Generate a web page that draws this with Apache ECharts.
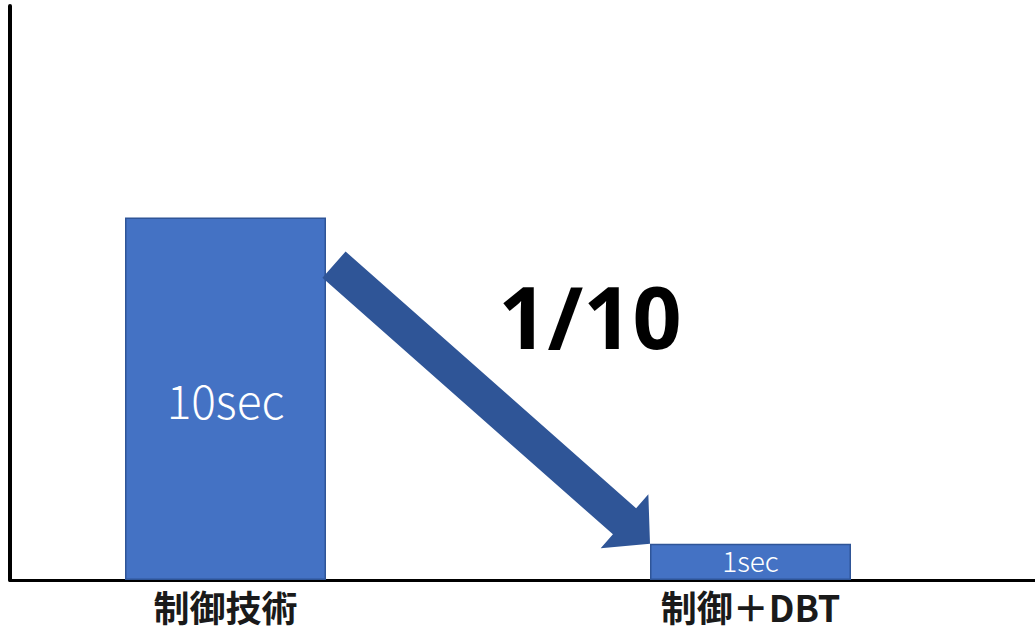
<!DOCTYPE html>
<html>
<head>
<meta charset="utf-8">
<script src="https://cdn.jsdelivr.net/npm/echarts@6/dist/echarts.min.js"></script>
<style>
  html, body { margin: 0; padding: 0; background: #ffffff; }
  #chart { width: 1035px; height: 633px; }
</style>
</head>
<body>
<div id="chart"></div>
<script>
// Processing time per approach (seconds)
const categories = ['制御技術', '制御＋DBT'];
const seconds = [10, 1];
const ratioText = '1/10';

const BAR_COLOR = '#4472C4';
const BAR_EDGE = '#2F5597';
const ARROW_COLOR = '#2F5597';
const BAR_WIDTH = 201;

const chart = echarts.init(document.getElementById('chart'), null, { renderer: 'svg' });

chart.setOption({
  backgroundColor: '#ffffff',
  animation: false,
  grid: [
    // frame: the two black axis lines
    { left: 10, right: 0, top: 6, bottom: 53, outerBoundsMode: 'none' },
    // bars
    { left: -37, width: 1050, top: 0, bottom: 53, outerBoundsMode: 'none' }
  ],
  xAxis: [
    {
      gridIndex: 0, type: 'category', data: [''],
      axisLine: { show: true, lineStyle: { color: '#000', width: 3 } },
      axisTick: { show: false }, axisLabel: { show: false }
    },
    {
      gridIndex: 1, type: 'category', data: categories,
      axisLine: { show: false }, axisTick: { show: false },
      axisLabel: {
        color: '#1a1a1a', fontSize: 36, lineHeight: 36, fontWeight: 'bold',
        fontFamily: '"Noto Sans CJK JP", sans-serif', margin: 8
      }
    }
  ],
  yAxis: [
    {
      gridIndex: 0, type: 'value', min: 0, max: 1,
      axisLine: { show: true, lineStyle: { color: '#000', width: 4 } },
      axisTick: { show: false }, axisLabel: { show: false }, splitLine: { show: false }
    },
    {
      gridIndex: 1, type: 'value', min: 0, max: 16,
      axisLine: { show: false }, axisTick: { show: false },
      axisLabel: { show: false }, splitLine: { show: false }
    }
  ],
  series: [{
    type: 'bar',
    xAxisIndex: 1, yAxisIndex: 1,
    data: seconds.map((v, i) => ({
      value: v,
      // the short bar gets a smaller caption so it stays within the bar
      label: i === 1 ? { fontSize: 28, lineHeight: 28, offset: [0, -2] } : undefined
    })),
    barWidth: BAR_WIDTH,
    itemStyle: { color: BAR_COLOR, borderColor: BAR_EDGE, borderWidth: 1.5 },
    label: {
      show: true, position: 'inside',
      formatter: p => p.value + 'sec',
      color: '#ffffff', fontSize: 46, fontWeight: 300,
      fontFamily: '"Noto Sans CJK JP", "Noto Sans", sans-serif'
    }
  }]
});

// Block arrow from the first bar down to the corner of the second bar
function arrowPoints() {
  const half = BAR_WIDTH / 2;
  const a = chart.convertToPixel({ gridIndex: 1 }, [0, 8.7]);
  const b = chart.convertToPixel({ gridIndex: 1 }, [1, seconds[1]]);
  const tail = [a[0] + half + 8, a[1]];
  const tip = [b[0] - half, b[1]];
  const dx = tip[0] - tail[0], dy = tip[1] - tail[1];
  const len = Math.hypot(dx, dy);
  const ux = dx / len, uy = dy / len;
  const nx = -uy, ny = ux;
  const shaftHalf = 17.5, headHalf = 36, headLen = 34;
  const bx = tip[0] - ux * headLen, by = tip[1] - uy * headLen;
  return [
    [tail[0] + nx * shaftHalf, tail[1] + ny * shaftHalf],
    [bx + nx * shaftHalf, by + ny * shaftHalf],
    [bx + nx * headHalf, by + ny * headHalf],
    tip,
    [bx - nx * headHalf, by - ny * headHalf],
    [bx - nx * shaftHalf, by - ny * shaftHalf],
    [tail[0] - nx * shaftHalf, tail[1] - ny * shaftHalf]
  ];
}

// "1/10" sits between the two bars, slightly toward the second one
const c0 = chart.convertToPixel({ gridIndex: 1 }, [0, 7.3]);
const c1 = chart.convertToPixel({ gridIndex: 1 }, [1, 7.3]);
const midX = (c0[0] + c1[0]) / 2 + 102;

chart.setOption({
  graphic: [
    {
      type: 'polygon',
      shape: { points: arrowPoints() },
      style: { fill: ARROW_COLOR },
      z: 10
    },
    {
      type: 'text',
      x: midX, y: c0[1],
      style: {
        text: ratioText,
        fill: '#000000',
        font: 'bold 86px "Noto Sans", sans-serif',
        textAlign: 'center', textVerticalAlign: 'middle'
      },
      z: 10
    }
  ]
});
</script>
</body>
</html>
